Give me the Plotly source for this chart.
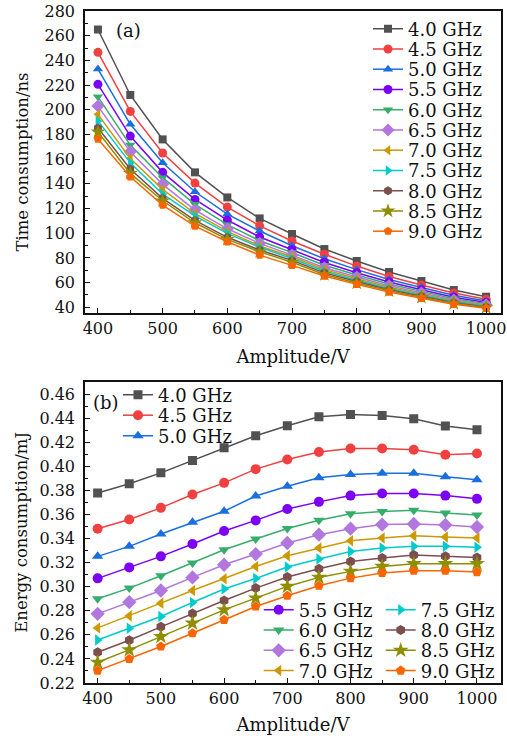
import plotly.graph_objects as go

amplitude = [400, 450, 500, 550, 600, 650, 700, 750, 800, 850, 900, 950, 1000]
freq_labels = ["4.0 GHz", "4.5 GHz", "5.0 GHz", "5.5 GHz", "6.0 GHz", "6.5 GHz",
               "7.0 GHz", "7.5 GHz", "8.0 GHz", "8.5 GHz", "9.0 GHz"]

# (a) time consumption, ns
t_4_0 = [265, 212, 176, 149.3, 129, 112, 99.4, 87.2, 77.5, 68.6, 61.3, 54.0, 48.6]
t_4_5 = [246.5, 198.7, 165, 140.6, 121.2, 106, 93.7, 83.0, 73.4, 64.9, 58.0, 51.6, 46.5]
t_5_0 = [233, 188.2, 157.1, 133.6, 115.5, 101.8, 89.9, 79.3, 70.5, 62.6, 56.1, 49.7, 45.1]
t_5_5 = [220.6, 178.7, 149.3, 127.4, 110.7, 96.9, 86.6, 76.3, 68.0, 60.5, 54.3, 48.2, 43.9]
t_6_0 = [210.5, 171.4, 145, 123.4, 106.9, 93.9, 84.3, 74.1, 66.2, 58.9, 52.9, 47.0, 43.0]
t_6_5 = [203, 166, 139.6, 118.8, 103.6, 91.8, 82.3, 72.1, 64.5, 57.4, 51.6, 46.0, 42.1]
t_7_0 = [196.3, 160.6, 135.5, 116, 101.5, 89.6, 81.0, 70.6, 63.1, 56.3, 50.7, 45.2, 41.5]
t_7_5 = [191, 157, 131.7, 114, 99.9, 88.6, 79.5, 69.2, 62.0, 55.3, 49.8, 44.5, 40.9]
t_8_0 = [185.2, 152, 128.3, 110.4, 96.7, 86.4, 78.0, 67.9, 60.9, 54.3, 49.0, 43.8, 40.3]
t_8_5 = [182, 148.5, 126.3, 108.5, 95, 85, 76.5, 66.6, 59.7, 53.4, 48.1, 43.1, 39.8]
t_9_0 = [176.3, 145.7, 122.8, 105.8, 93.1, 82.3, 74.0, 65.3, 58.6, 52.4, 47.3, 42.4, 39.2]

# (b) energy consumption, mJ
e_4_0 = [0.378, 0.3856, 0.3947, 0.405, 0.4156, 0.4256, 0.4338, 0.4414, 0.4433, 0.4425, 0.4397, 0.4336, 0.4306]
e_4_5 = [0.3483, 0.356, 0.3656, 0.3767, 0.3864, 0.3978, 0.4058, 0.412, 0.415, 0.415, 0.4139, 0.4097, 0.4108]
e_5_0 = [0.3253, 0.3336, 0.3439, 0.3536, 0.3628, 0.3755, 0.3836, 0.3906, 0.3933, 0.3944, 0.3944, 0.3914, 0.3889]
e_5_5 = [0.307, 0.3161, 0.3253, 0.3356, 0.3464, 0.3552, 0.3647, 0.3706, 0.3758, 0.3775, 0.3775, 0.3758, 0.3731]
e_6_0 = [0.29, 0.2989, 0.3092, 0.3197, 0.3308, 0.3397, 0.3485, 0.3553, 0.3608, 0.3625, 0.3636, 0.3614, 0.3597]
e_6_5 = [0.2775, 0.2872, 0.2969, 0.3078, 0.3183, 0.3272, 0.3364, 0.3433, 0.3483, 0.3517, 0.3522, 0.3514, 0.3497]
e_7_0 = [0.2658, 0.2758, 0.2864, 0.2969, 0.3067, 0.3169, 0.3258, 0.3322, 0.3383, 0.3406, 0.3425, 0.3414, 0.3406]
e_7_5 = [0.2558, 0.2656, 0.2753, 0.2869, 0.2981, 0.3069, 0.3164, 0.3231, 0.3294, 0.3322, 0.3336, 0.3336, 0.3328]
e_8_0 = [0.2456, 0.2556, 0.2667, 0.2778, 0.2886, 0.2989, 0.3081, 0.315, 0.3211, 0.3239, 0.3264, 0.3253, 0.3244]
e_8_5 = [0.2372, 0.2475, 0.2586, 0.2697, 0.2808, 0.2906, 0.3003, 0.3078, 0.3128, 0.3169, 0.3192, 0.3192, 0.3192]
e_9_0 = [0.2303, 0.24, 0.2503, 0.2614, 0.2725, 0.2836, 0.2925, 0.3008, 0.3072, 0.3114, 0.3133, 0.3133, 0.3122]

time_series = [t_4_0, t_4_5, t_5_0, t_5_5, t_6_0, t_6_5, t_7_0, t_7_5, t_8_0, t_8_5, t_9_0]
energy_series = [e_4_0, e_4_5, e_5_0, e_5_5, e_6_0, e_6_5, e_7_0, e_7_5, e_8_0, e_8_5, e_9_0]

colors = ["#515151", "#F14040", "#1A6FDF", "#7B00F5", "#37AD6B", "#B177DE",
          "#CC9900", "#00CBCC", "#7D4E4E", "#8E8E00", "#FB6501"]
symbols = ["square", "circle", "triangle-up", "circle", "triangle-down", "diamond",
           "triangle-left", "triangle-right", "hexagon", "star", "pentagon"]
msizes = [9, 10, 10, 10, 10, 11, 10, 10, 10, 12, 10]

FONT = "DejaVu Serif"
W, H = 507, 742
ML, MR, MT, MB = 85, 6, 11, 59
PW, PH = W - ML - MR, H - MT - MB

def px_x(px):
    return (px - ML) / PW

def px_y(py):
    return (H - MB - py) / PH

fig = go.Figure()
legends = {}

def add_legend(key, text_x, center_y):
    # legend box placed so that its entry text starts at text_x and is centred on center_y
    legends[key] = dict(
        x=px_x(text_x - 42), y=px_y(center_y), xref="paper", yref="paper",
        xanchor="left", yanchor="middle", bgcolor="rgba(0,0,0,0)", borderwidth=0,
        font=dict(family=FONT, size=18, color="#111"), itemwidth=30,
    )

# top panel
for i, (lab, ys) in enumerate(zip(freq_labels, time_series)):
    key = "legend" if i == 0 else f"legend{i + 1}"
    add_legend(key, 410, 29 + 20.25 * i)
    fig.add_trace(go.Scatter(
        x=amplitude, y=ys, name=lab, mode="lines+markers", xaxis="x", yaxis="y",
        line=dict(color=colors[i], width=1.5),
        marker=dict(symbol=symbols[i], size=msizes[i] - 1, color=colors[i], line=dict(width=0)),
        legend=key, showlegend=True,
    ))

# bottom panel
for i, (lab, ys) in enumerate(zip(freq_labels, energy_series)):
    key = f"legend{12 + i}"
    if i < 3:
        add_legend(key, 160, 395 + 20.5 * i)
    elif i < 7:
        add_legend(key, 300.7, 610 + 20.3 * (i - 3))
    else:
        add_legend(key, 422.7, 610 + 20.3 * (i - 7))
    fig.add_trace(go.Scatter(
        x=amplitude, y=ys, name=lab, mode="lines+markers", xaxis="x2", yaxis="y2",
        line=dict(color=colors[i], width=1.5),
        marker=dict(symbol=symbols[i], size=msizes[i], color=colors[i], line=dict(width=0)),
        legend=key, showlegend=True,
    ))

axis_common = dict(
    showline=True, linecolor="#111", linewidth=1.5, mirror=True,
    ticks="inside", ticklen=5, tickwidth=1.2, tickcolor="#111",
    showgrid=False, zeroline=False, automargin=False,
    ticklabeloverflow="allow",
    tickfont=dict(family=FONT, size=16, color="#111"),
)
minor_x = dict(ticks="inside", ticklen=3, dtick=50, tick0=400, tickcolor="#111", tickwidth=1.2)
title_font = dict(family=FONT, size=18, color="#111")
ytitle_font = dict(family=FONT, size=16.5, color="#111")

fig.update_layout(
    width=W, height=H, showlegend=True,
    margin=dict(l=ML, r=MR, t=MT, b=MB, autoexpand=False),
    paper_bgcolor="white", plot_bgcolor="white",
    font=dict(family=FONT, color="#111"),
    xaxis=dict(**axis_common, domain=[0, 1], anchor="y", range=[380, 1023],
               tickvals=[400, 500, 600, 700, 800, 900, 1000], minor=minor_x,
               title=dict(text="Amplitude/V", font=title_font, standoff=13)),
    yaxis=dict(**axis_common, domain=[px_y(313), 1], anchor="x", range=[35.4, 280],
               tickvals=[40, 60, 80, 100, 120, 140, 160, 180, 200, 220, 240, 260, 280],
               ticklabelstandoff=5,
               minor=dict(ticks="inside", ticklen=3, dtick=10, tick0=40, tickcolor="#111", tickwidth=1.2),
               title=dict(text="Time consumption/ns", font=ytitle_font, standoff=12)),
    xaxis2=dict(**axis_common, domain=[0, 1], anchor="y2", range=[380, 1038],
                tickvals=[400, 500, 600, 700, 800, 900, 1000], minor=minor_x,
                title=dict(text="Amplitude/V", font=title_font, standoff=11)),
    yaxis2=dict(**axis_common, domain=[0, px_y(381.7)], anchor="x2", range=[0.22, 0.4705],
                tickvals=[0.22, 0.24, 0.26, 0.28, 0.30, 0.32, 0.34, 0.36, 0.38, 0.40, 0.42, 0.44, 0.46],
                tickformat=".2f", ticklabelstandoff=5,
                minor=dict(ticks="inside", ticklen=3, dtick=0.01, tick0=0.22, tickcolor="#111", tickwidth=1.2),
                title=dict(text="Energy consumption/mJ", font=ytitle_font, standoff=8)),
    annotations=[
        dict(text="(a)", x=px_x(128), y=px_y(30), xref="paper", yref="paper", showarrow=False,
             xanchor="center", yanchor="middle", font=dict(family=FONT, size=18, color="#111")),
        dict(text="(b)", x=px_x(106), y=px_y(402), xref="paper", yref="paper", showarrow=False,
             xanchor="center", yanchor="middle", font=dict(family=FONT, size=18, color="#111")),
    ],
    **legends,
)

# remove the browser's default 8px page margin so the figure sits at the window origin
fig.write_html("out.html", config={"displayModeBar": False},
               post_script="document.body.style.margin='0';")
